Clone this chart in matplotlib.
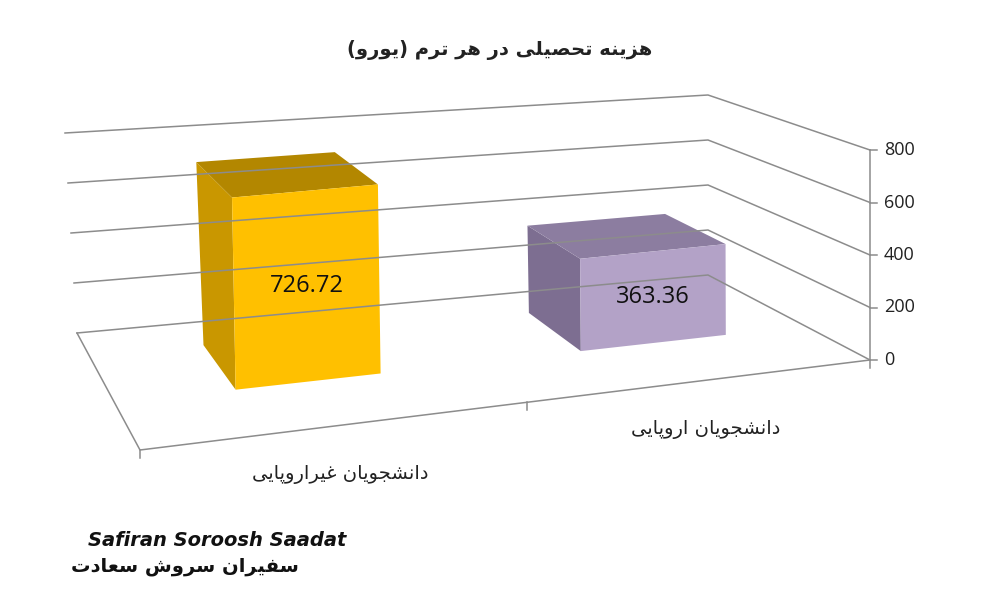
import matplotlib
matplotlib.use("Agg")
import matplotlib.pyplot as plt
from matplotlib.patches import Polygon

# data
categories = ["دانشجویان غیراروپایی", "دانشجویان اروپایی"]
values = [726.72, 363.36]
value_labels = ["726.72", "363.36"]
y_ticks = [0, 200, 400, 600, 800]
title = "هزینه تحصیلی در هر ترم (یورو)"
bar_colors = [("#FFC000", "#C99700", "#B38700"), ("#B3A2C7", "#7D6E91", "#8C7DA0")]

# minimal persian shaping (matplotlib has no bidi / joining)
FORMS = {
    "ا": (0xFE8D, 0xFE8E), "د": (0xFEA9, 0xFEAA), "ر": (0xFEAD, 0xFEAE),
    "ز": (0xFEAF, 0xFEB0), "و": (0xFEED, 0xFEEE),
    "ب": (0xFE8F, 0xFE90, 0xFE91, 0xFE92), "پ": (0xFB56, 0xFB57, 0xFB58, 0xFB59),
    "ت": (0xFE95, 0xFE96, 0xFE97, 0xFE98), "ج": (0xFE9D, 0xFE9E, 0xFE9F, 0xFEA0),
    "ح": (0xFEA1, 0xFEA2, 0xFEA3, 0xFEA4), "س": (0xFEB1, 0xFEB2, 0xFEB3, 0xFEB4),
    "ش": (0xFEB5, 0xFEB6, 0xFEB7, 0xFEB8), "ص": (0xFEB9, 0xFEBA, 0xFEBB, 0xFEBC),
    "ع": (0xFEC9, 0xFECA, 0xFECB, 0xFECC), "غ": (0xFECD, 0xFECE, 0xFECF, 0xFED0),
    "ف": (0xFED1, 0xFED2, 0xFED3, 0xFED4), "ل": (0xFEDD, 0xFEDE, 0xFEDF, 0xFEE0),
    "م": (0xFEE1, 0xFEE2, 0xFEE3, 0xFEE4), "ن": (0xFEE5, 0xFEE6, 0xFEE7, 0xFEE8),
    "ه": (0xFEE9, 0xFEEA, 0xFEEB, 0xFEEC), "ی": (0xFBFC, 0xFBFD, 0xFBFE, 0xFBFF),
}


def fa(text):
    out = []
    n = len(text)
    for i, c in enumerate(text):
        if c not in FORMS:
            out.append(c)
            continue
        f = FORMS[c]
        jp = i > 0 and text[i - 1] in FORMS and len(FORMS[text[i - 1]]) == 4
        jn = len(f) == 4 and i + 1 < n and text[i + 1] in FORMS
        if jp and jn:
            k = 3
        elif jn:
            k = 2
        elif jp:
            k = 1
        else:
            k = 0
        out.append(chr(f[k]))
    s = "".join(out)[::-1]
    return s.translate(str.maketrans("()", ")("))


# fake perspective: floor corners (pixels) and px per unit at each corner
FL, FR, BL, BR = (140, 450), (870, 360), (77, 333), (708, 275)
SFL, SFR, SBL, SBR = 0.28, 0.2625, 0.25, 0.225


def proj(u, v, h):
    w = [(1 - u) * (1 - v), u * (1 - v), (1 - u) * v, u * v]
    pts = [FL, FR, BL, BR]
    x = sum(wi * p[0] for wi, p in zip(w, pts))
    y = sum(wi * p[1] for wi, p in zip(w, pts))
    s = w[0] * SFL + w[1] * SFR + w[2] * SBL + w[3] * SBR
    x -= h * 0.015 * (1 - u) * v
    return x, y - h * s


fig = plt.figure(figsize=(10, 6), dpi=100)
ax = fig.add_axes([0, 0, 1, 1])
ax.set_xlim(0, 1000)
ax.set_ylim(600, 0)
ax.axis("off")

grid = dict(color="#8c8c8c", lw=1.1)
for t in y_ticks:
    a, b, c = proj(0, 1, t), proj(1, 1, t), proj(1, 0, t)
    ax.plot([a[0], b[0], c[0]], [a[1], b[1], c[1]], **grid)
# floor front edge and left edge
a, b, c = proj(0, 1, 0), proj(0, 0, 0), proj(1, 0, 0)
ax.plot([a[0], b[0], c[0]], [a[1], b[1], c[1]], **grid)
# value axis
p0, p1 = proj(1, 0, 0), proj(1, 0, y_ticks[-1])
ax.plot([p0[0], p1[0]], [p0[1], p1[1]], **grid)
for t in y_ticks:
    x, y = proj(1, 0, t)
    ax.plot([x, x + 7], [y, y], **grid)
    ax.text(x + 14, y, str(t), fontsize=13, family="Open Sans", va="center", ha="left", color="#222222")
# category ticks
for u in [0, 0.53, 1]:
    x, y = proj(u, 0, 0)
    ax.plot([x, x], [y, y + 8], **grid)

v0, v1 = 0.4, 0.8
half = 0.105
for i, (val, cols) in enumerate(zip(values, bar_colors)):
    c = 0.28 + 0.5 * i
    ul, ur = c - half, c + half
    front = [proj(ul, v0, 0), proj(ur, v0, 0), proj(ur, v0, val), proj(ul, v0, val)]
    side = [proj(ul, v0, 0), proj(ul, v1, 0), proj(ul, v1, val), proj(ul, v0, val)]
    top = [proj(ul, v0, val), proj(ur, v0, val), proj(ur, v1, val), proj(ul, v1, val)]
    ax.add_patch(Polygon(side, closed=True, fc=cols[1], ec="none"))
    ax.add_patch(Polygon(top, closed=True, fc=cols[2], ec="none"))
    ax.add_patch(Polygon(front, closed=True, fc=cols[0], ec="none"))
    cx, cy = proj(c, v0, val / 2)
    ax.text(cx, cy, value_labels[i], fontsize=17, family="Open Sans", ha="center", va="center", color="#111111")
    lx, ly = proj(c, 0, 0)
    ax.text(lx - 4, ly + 50, fa(categories[i]), fontsize=14, family="DejaVu Sans", ha="center", va="center", color="#222222")

ax.text(500, 50, fa(title), fontsize=14, fontweight="bold", family="DejaVu Sans", ha="center", va="center", color="#222222")

# logo text
ax.text(88, 541, "Safiran Soroosh Saadat", fontsize=14, fontweight="bold", style="italic",
        family="DejaVu Sans", ha="left", va="center", color="#111111")
ax.text(185, 566, fa("سفیران سروش سعادت"), fontsize=14, fontweight="bold",
        family="DejaVu Sans", ha="center", va="center", color="#111111")

fig.savefig("out.png", dpi=100)
